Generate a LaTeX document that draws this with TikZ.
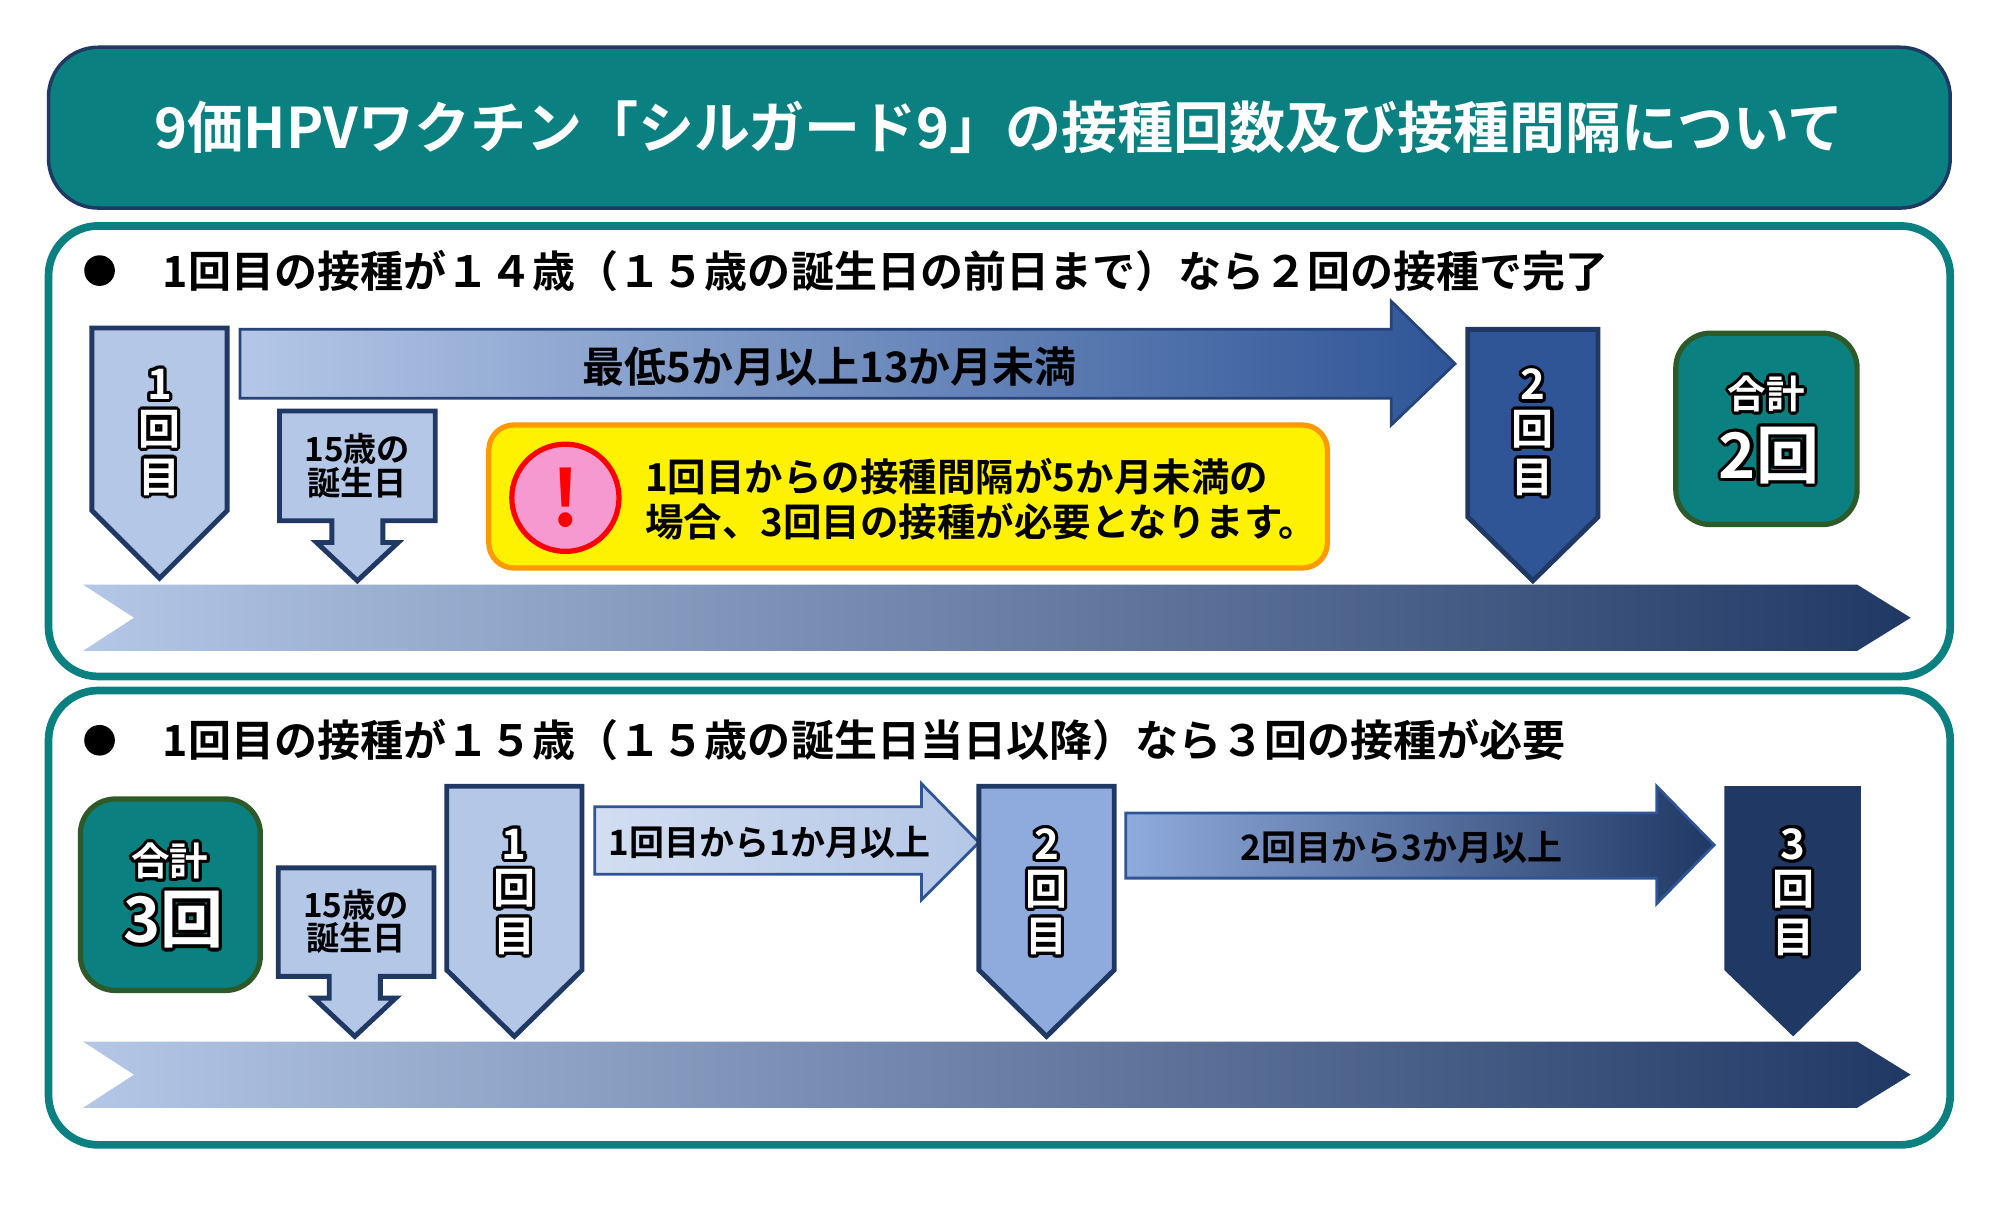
\documentclass[tikz,border=0pt]{standalone}
\usepackage{fontspec}
\setmainfont{Noto Sans CJK JP}[BoldFont={* Bold}]
\usepackage{contour}
\contourlength{0.9pt}
\usetikzlibrary{positioning}
\definecolor{teal1}{HTML}{0B8080}
\definecolor{navy}{HTML}{203864}
\definecolor{pale}{HTML}{B4C7E7}
\definecolor{mid}{HTML}{8FAADC}
\definecolor{royal}{HTML}{2F5597}
\definecolor{olive}{HTML}{2E5A2A}
\newcommand{\fs}[1]{\fontsize{#1}{#1}\selectfont\bfseries}
\newcommand{\vlab}[1]{\contour{black}{\textcolor{white}{#1}}}
\begin{document}
\begin{tikzpicture}[x=0.01282cm,y=-0.01282cm,
    panel/.style={draw=teal1, line width=2.2pt, fill=white, rounded corners=0.5cm},
    total/.style={draw=olive, line width=1.5pt, fill=teal1, rounded corners=0.35cm},
    marker/.style={draw=navy, line width=1.4pt},
    head/.style={anchor=west, font=\fs{12.3}},
    lab/.style={font=\fs{11}, align=center, inner sep=0pt}]
  \useasboundingbox (0,0) rectangle (1567,956);
  % title
  \node[draw=navy, line width=1pt, fill=teal1, rounded corners=0.5cm, minimum width=1490*0.01282cm,
    minimum height=126*0.01282cm, text=white, font=\fs{16}] (title) at (783,100)
    {9価HPVワクチン「シルガード9」の接種回数及び接種間隔について};
  \draw[panel] (38,177) rectangle (1528,530);
  \draw[panel] (38,541) rectangle (1528,897);
  % panel 1
  \fill (78,212) circle (12);
  \node[head] (h1) at (118,212) {1回目の接種が１４歳（１５歳の誕生日の前日まで）なら２回の接種で完了};
  \shade[left color=pale, right color=navy] (65,458) -- (1455,458) -- (1497,484) -- (1455,510) -- (65,510) -- (105,484) -- cycle;
  \draw[marker, fill=pale] (72,257) -- (178,257) -- (178,400) -- (125,453) -- (72,400) -- cycle;
  \node[lab, font=\fs{12}] (d1a) at (125,340) {\vlab{\shortstack{1\\回\\目}}};
  \shade[left color=pale, right color=royal] (188,258) -- (1090,258) -- (1090,236) -- (1140,285) -- (1090,333) -- (1090,312) -- (188,312) -- cycle;
  \draw[draw=royal!80!black, line width=0.8pt] (188,258) -- (1090,258) -- (1090,236) -- (1140,285) -- (1090,333) -- (1090,312) -- (188,312) -- cycle;
  \node[lab, font=\fs{12}] (gap1) at (650,287) {最低5か月以上13か月未満};
  \draw[marker, fill=pale] (219,322) -- (341,322) -- (341,408) -- (300,408) -- (300,425) -- (312,425) -- (280,455) -- (248,425) -- (260,425) -- (260,408) -- (219,408) -- cycle;
  \node[lab, font=\fs{9.5}] (bd1) at (280,365) {15歳の\\誕生日};
  \draw[draw=orange!80!yellow, line width=1.5pt, fill=yellow, rounded corners=0.25cm] (383,333) rectangle (1040,445);
  \node[circle, draw=red, line width=1.5pt, fill=magenta!40, minimum size=84*0.01282cm, text=red,
    font=\fs{22}] (warn) at (443,390) {!};
  \node[lab, anchor=west, align=left, font=\fs{11}] (note) at (505,391)
    {1回目からの接種間隔が5か月未満の\\[2pt]場合、3回目の接種が必要となります。};
  \draw[marker, fill=royal] (1150,258) -- (1252,258) -- (1252,405) -- (1201,455) -- (1150,405) -- cycle;
  \node[lab, font=\fs{12}] (d2a) at (1201,340) {\vlab{\shortstack{2\\回\\目}}};
  \draw[total] (1313,261) rectangle (1455,411);
  \node[lab, font=\fs{11}] (sum2) at (1384,310) {\vlab{合計}};
  \node[lab, font=\fs{18}] (sum2b) at (1386,358) {\vlab{2回}};
  % panel 2
  \fill (78,580) circle (12);
  \node[head] (h2) at (118,580) {1回目の接種が１５歳（１５歳の誕生日当日以降）なら３回の接種が必要};
  \shade[left color=pale, right color=navy] (65,816) -- (1455,816) -- (1497,842) -- (1455,868) -- (65,868) -- (105,842) -- cycle;
  \draw[total] (63,626) rectangle (204,776);
  \node[lab, font=\fs{11}] (sum3) at (133,676) {\vlab{合計}};
  \node[lab, font=\fs{18}] (sum3b) at (136,722) {\vlab{3回}};
  \draw[marker, fill=pale] (218,680) -- (340,680) -- (340,765) -- (298,765) -- (298,782) -- (310,782) -- (278,812) -- (246,782) -- (258,782) -- (258,765) -- (218,765) -- cycle;
  \node[lab, font=\fs{9.5}] (bd2) at (279,722) {15歳の\\誕生日};
  \draw[marker, fill=pale] (350,616) -- (456,616) -- (456,760) -- (403,812) -- (350,760) -- cycle;
  \node[lab, font=\fs{12}] (d1b) at (403,700) {\vlab{\shortstack{1\\回\\目}}};
  \shade[left color=pale!60, right color=pale] (466,632) -- (722,632) -- (722,614) -- (767,660) -- (722,705) -- (722,685) -- (466,685) -- cycle;
  \draw[draw=royal, line width=0.8pt] (466,632) -- (722,632) -- (722,614) -- (767,660) -- (722,705) -- (722,685) -- (466,685) -- cycle;
  \node[lab, font=\fs{10}] (gap2) at (603,660) {1回目から1か月以上};
  \draw[marker, fill=mid] (767,616) -- (873,616) -- (873,760) -- (820,812) -- (767,760) -- cycle;
  \node[lab, font=\fs{12}] (d2b) at (820,700) {\vlab{\shortstack{2\\回\\目}}};
  \shade[left color=mid, right color=navy] (882,637) -- (1298,637) -- (1298,616) -- (1343,662) -- (1298,708) -- (1298,688) -- (882,688) -- cycle;
  \draw[draw=royal, line width=0.8pt] (882,637) -- (1298,637) -- (1298,616) -- (1343,662) -- (1298,708) -- (1298,688) -- (882,688) -- cycle;
  \node[lab, font=\fs{10}] (gap3) at (1098,664) {2回目から3か月以上};
  \fill[navy] (1351,616) -- (1458,616) -- (1458,760) -- (1405,812) -- (1351,760) -- cycle;
  \node[lab, font=\fs{12}] (d3) at (1405,700) {\vlab{\shortstack{3\\回\\目}}};
\end{tikzpicture}
\end{document}
